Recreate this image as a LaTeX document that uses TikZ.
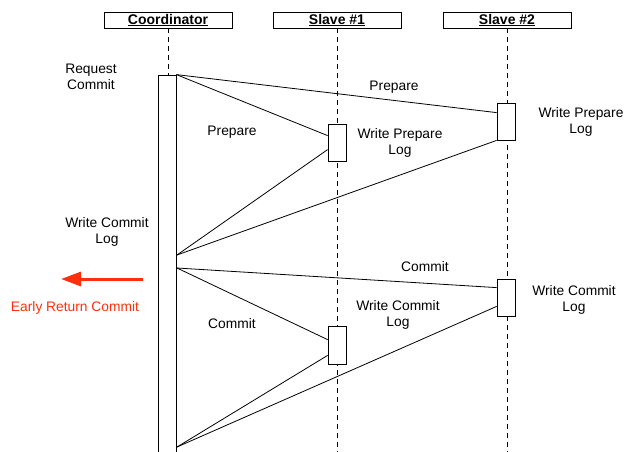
\documentclass[tikz,border=0pt]{standalone}
\usepackage{fontspec}
\setmainfont{Liberation Sans}
\definecolor{alertred}{RGB}{252,48,12}
\usetikzlibrary{positioning, calc, arrows.meta}

\begin{document}
\begin{tikzpicture}[
        x=1pt, y=-1pt,
        font=\fontsize{13.8}{16.5}\selectfont,
        header/.style={rectangle, draw, line width=0.8pt, minimum width=128pt, minimum height=16pt, inner sep=0pt, font=\fontsize{14}{16}\selectfont\bfseries},
        lifeline/.style={dash pattern=on 5pt off 4pt, line width=0.8pt},
        bar/.style={rectangle, draw, fill=white, line width=0.8pt, minimum width=18pt, inner sep=0pt},
        msg/.style={line width=0.8pt},
        note/.style={align=center, inner sep=0pt},
        early/.style={-{Triangle[length=20pt, width=14pt]}, line width=3pt, draw=alertred}
    ]
        \useasboundingbox (0,0) rectangle (629,451);

        % Participants
        \node[header] (COORD) at (168,20) {\underline{Coordinator}};
        \node[header] (SL1) at (337,20) {\underline{Slave \#1}};
        \node[header] (SL2) at (507,20) {\underline{Slave \#2}};

        % Lifelines
        \coordinate (COORDend) at (168,455);
        \coordinate (SL1end) at (337,455);
        \coordinate (SL2end) at (507,455);
        \draw[lifeline] (COORD) -- (COORDend);
        \draw[lifeline] (SL1) -- (SL1end);
        \draw[lifeline] (SL2) -- (SL2end);

        % Activation bars
        \node[bar, minimum height=382pt] (CB) at (167,266) {};
        \node[bar, minimum height=37pt] (S2A) at (506,121.5) {};
        \node[bar, minimum height=37pt] (S1A) at (337,142.5) {};
        \node[bar, minimum height=37pt] (S2B) at (506,297.5) {};
        \node[bar, minimum height=38pt] (S1B) at (337,345) {};

        % Points on the coordinator bar
        \coordinate (prepDone) at (177,255);
        \coordinate (commitStart) at (177,268);
        \coordinate (commitDone) at (177,447);

        % Prepare phase
        \draw[msg] (CB.north east) -- ([yshift=-10pt]S2A.north west);
        \draw[msg] (CB.north east) -- ([yshift=-12pt]S1A.north west);
        \draw[msg] ([yshift=-26pt]S1A.north west) -- (prepDone);
        \draw[msg] (S2A.south west) -- (prepDone);

        % Commit phase
        \draw[msg] (commitStart) -- ([yshift=-9pt]S2B.north west);
        \draw[msg] (commitStart) -- ([yshift=-14pt]S1B.north west);
        \draw[msg] ([yshift=9pt]S1B.south west) -- (commitDone);
        \draw[msg] ([yshift=10pt]S2B.south west) -- (commitDone);

        % Labels
        \node[note] (reqLbl) at (91,77) {Request\\Commit};
        \node[note] (prep2Lbl) at (394,87) {Prepare};
        \node[note] (prep1Lbl) at (232,132) {Prepare};
        \node[note] (wp1Lbl) at (400,143) {Write Prepare\\Log};
        \node[note] (wp2Lbl) at (581,122) {Write Prepare\\Log};
        \node[note] (wcCLbl) at (107,232) {Write Commit\\Log};
        \node[note] (com2Lbl) at (425,267) {Commit};
        \node[note] (com1Lbl) at (232,324) {Commit};
        \node[note] (wc1Lbl) at (398,315) {Write Commit\\Log};
        \node[note] (wc2Lbl) at (574,300) {Write Commit\\Log};

        % Early return
        \coordinate (earlyFrom) at (143,279);
        \coordinate (earlyTo) at (61,279);
        \draw[early] (earlyFrom) -- (earlyTo);
        \node[note, text=alertred] (earlyLbl) at (75,308) {Early Return Commit};
    \end{tikzpicture}
\end{document}
